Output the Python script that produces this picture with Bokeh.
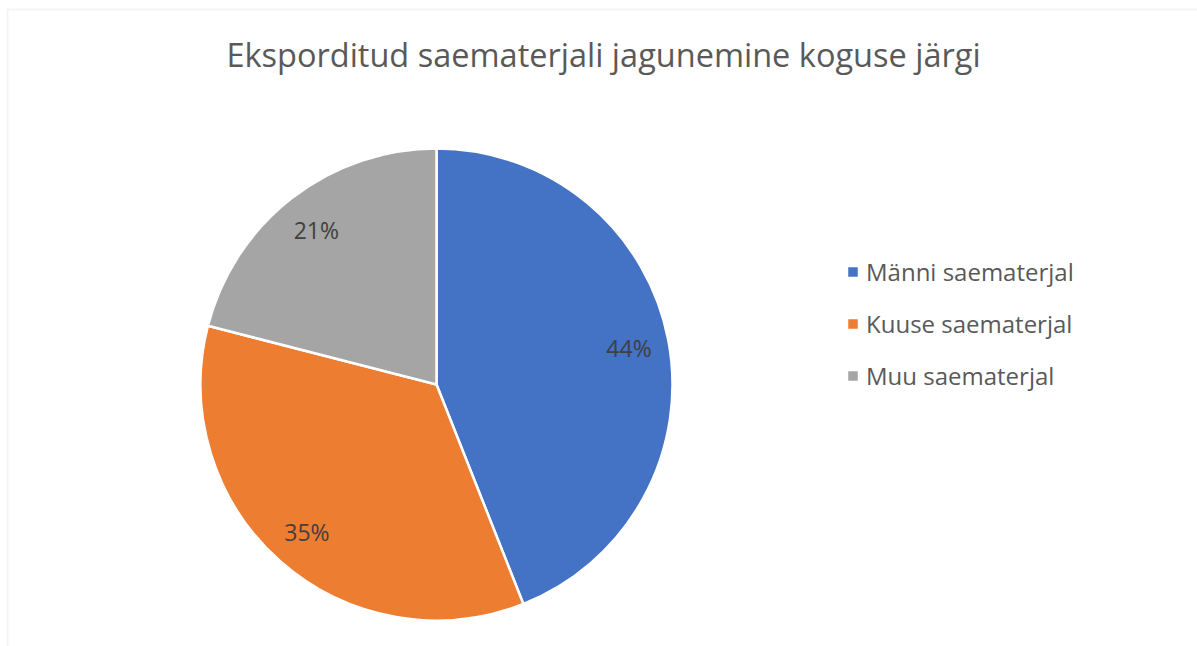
import numpy as np
from bokeh.plotting import figure
from bokeh.models import ColumnDataSource, Range1d, Legend, LegendItem, Label, BoxAnnotation
from bokeh.core.properties import value
from bokeh.embed import file_html
from bokeh.resources import INLINE

# ---- data ----
categories = ["Männi saematerjal", "Kuuse saematerjal", "Muu saematerjal"]
shares = [44, 35, 21]
colors = ["#4472C4", "#ED7D31", "#A5A5A5"]
title_text = "Eksporditud saematerjali jagunemine koguse järgi"

W, H = 1197, 646
FONT = "Open Sans"

# pie geometry (pixel-like data space, y up)
cx, cy, R = 436, H - 384, 236

vals = np.array(shares, dtype=float)
frac = vals / vals.sum()
ends_cum = np.cumsum(frac)
starts_cum = ends_cum - frac
start_angle = np.pi / 2 - starts_cum * 2 * np.pi
end_angle = np.pi / 2 - ends_cum * 2 * np.pi
mid = (start_angle + end_angle) / 2
lab_r = 196

src = ColumnDataSource(dict(
    cat=categories, start=start_angle, end=end_angle, color=colors,
    lx=cx + lab_r * np.cos(mid), ly=cy + lab_r * np.sin(mid),
    lab=[f"{int(round(v))}%" for v in frac * 100],
))

p = figure(width=W, height=H, output_backend="svg", toolbar_location=None,
           x_axis_type=None, y_axis_type=None,
           x_range=Range1d(0, W), y_range=Range1d(0, H),
           min_border=0, min_border_left=0, min_border_right=0,
           min_border_top=0, min_border_bottom=0)
p.outline_line_color = None
p.grid.visible = False
p.background_fill_color = "white"
p.border_fill_color = "white"

# chart-area border (top and left visible)
p.add_layout(BoxAnnotation(left=7, right=W + 50, top=H - 9, bottom=-50,
                           fill_alpha=0, line_color="#D9D9D9", line_width=2))

wedges = p.wedge(x=cx, y=cy, radius=R, start_angle="start", end_angle="end",
                 direction="clock", fill_color="color", line_color="white",
                 line_width=2.5, source=src)

p.text(x="lx", y="ly", text="lab", source=src, text_align="center",
       text_baseline="middle", text_font=value(FONT), text_font_size="23px",
       text_color="#404040")

p.add_layout(Label(x=603, y=H - 54, text=title_text, text_align="center",
                   text_baseline="middle", text_font=FONT,
                   text_font_size="32.5px", text_color="#595959"))

items = [LegendItem(label=c, renderers=[wedges], index=i) for i, c in enumerate(categories)]
legend = Legend(items=items, location=(845, 254), orientation="vertical",
                border_line_color=None, background_fill_alpha=0,
                label_text_font=FONT, label_text_font_size="24px",
                label_text_color="#595959", glyph_width=15, glyph_height=15,
                label_standoff=6, spacing=19, padding=0, margin=0,
                label_height=30)
p.add_layout(legend)

open("out.html", "w").write(file_html(p, INLINE))
